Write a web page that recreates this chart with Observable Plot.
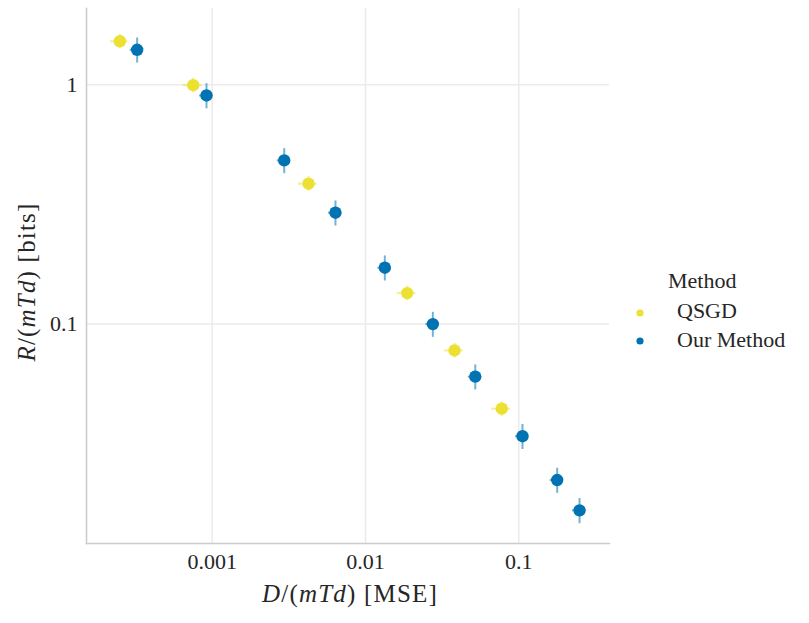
<!DOCTYPE html>
<html>
<head>
<meta charset="utf-8">
<script src="https://cdn.jsdelivr.net/npm/d3@7"></script>
<script src="https://cdn.jsdelivr.net/npm/@observablehq/plot@0.6"></script>
<style>
  html, body { margin: 0; padding: 0; background: white; }
  #wrap { position: relative; width: 809px; height: 623px; }
  #chart { position: absolute; left: 0; top: 0; }
  #legend { position: absolute; left: 620px; top: 250px; }
</style>
</head>
<body>
<div id="wrap"><div id="chart"></div><div id="legend"></div></div>
<script>
// ---- data ----
const methods = ["QSGD", "Our Method"];
const methodColors = ["#ECE133", "#0173B2"];

const qsgdD = [2.50e-4, 7.52e-4, 4.25e-3, 0.0187, 0.0381, 0.0774];
const qsgdR = [1.52, 0.996, 0.386, 0.1347, 0.0776, 0.0443];
const qsgdDErr = [0.13, 0.14, 0.14, 0.14, 0.14, 0.14];   // relative half-width
const qsgdRErr = [0.07, 0.07, 0.07, 0.07, 0.07, 0.07];

const oursD = [3.24e-4, 9.18e-4, 2.95e-3, 6.37e-3, 0.01337, 0.0275, 0.0520, 0.1057, 0.178, 0.249];
const oursR = [1.40, 0.902, 0.483, 0.292, 0.172, 0.100, 0.0603, 0.0340, 0.0223, 0.01666];
const oursDErr = [0.10, 0.10, 0.10, 0.10, 0.10, 0.10, 0.10, 0.10, 0.10, 0.10];
const oursRErr = [0.12, 0.12, 0.12, 0.12, 0.12, 0.12, 0.12, 0.12, 0.12, 0.12];

const xTicks = [0.001, 0.01, 0.1];
const xTickLabels = ["0.001", "0.01", "0.1"];
const yTicks = [0.1, 1];
const yTickLabels = ["0.1", "1"];

// ---- table ----
const rows = [];
qsgdD.forEach((d, i) => rows.push({method: methods[0], D: d, R: qsgdR[i], dE: qsgdDErr[i], rE: qsgdRErr[i]}));
oursD.forEach((d, i) => rows.push({method: methods[1], D: d, R: oursR[i], dE: oursDErr[i], rE: oursRErr[i]}));

const FONT = "'Liberation Serif', 'Times New Roman', serif";
const TXT = "#262626";

const plot = Plot.plot({
  width: 620,
  height: 623,
  marginLeft: 86,
  marginRight: 11,
  marginTop: 8,
  marginBottom: 80,
  style: {fontFamily: FONT, fontSize: "22px", color: TXT, background: "white", overflow: "visible"},
  x: {type: "log", domain: [1.514e-4, 0.3905], ticks: xTicks, tickFormat: d => xTickLabels[xTicks.indexOf(d)], tickSize: 0, tickPadding: 10, label: null},
  y: {type: "log", domain: [0.01211, 2.083], ticks: yTicks, tickFormat: d => yTickLabels[yTicks.indexOf(d)], tickSize: 0, tickPadding: 9, label: null},
  color: {domain: methods, range: methodColors},
  marks: [
    Plot.gridX(xTicks, {stroke: "#ebebeb", strokeOpacity: 1, strokeWidth: 1.5}),
    Plot.gridY(yTicks, {stroke: "#ebebeb", strokeOpacity: 1, strokeWidth: 1.5}),
    Plot.frame({anchor: "left", stroke: "#cccccc", strokeWidth: 1.6}),
    Plot.frame({anchor: "bottom", stroke: "#cccccc", strokeWidth: 1.6}),
    Plot.axisX({ticks: xTicks, tickSize: 0, tickPadding: 10, tickFormat: d => xTickLabels[xTicks.indexOf(d)], label: null}),
    Plot.axisY({ticks: yTicks, tickSize: 0, tickPadding: 9, tickFormat: d => yTickLabels[yTicks.indexOf(d)], label: null}),
    // error bars
    Plot.ruleX(rows, {x: "D", y1: d => d.R * (1 - d.rE), y2: d => d.R * (1 + d.rE), stroke: "method", strokeOpacity: 0.55, strokeWidth: 2}),
    Plot.ruleY(rows, {y: "R", x1: d => d.D * (1 - d.dE), x2: d => d.D * (1 + d.dE), stroke: "method", strokeOpacity: 0.55, strokeWidth: 2}),
    // points
    Plot.dot(rows, {x: "D", y: "R", fill: "method", r: 6.2, stroke: "none"})
  ]
});
document.getElementById("chart").appendChild(plot);

// axis titles with math italics
const svg = d3.select(plot);
const xl = svg.append("text")
  .attr("x", 350).attr("y", 602)
  .attr("text-anchor", "middle")
  .attr("font-family", FONT).attr("font-size", 25).attr("fill", TXT)
  .attr("letter-spacing", 1.2);
xl.append("tspan").attr("font-style", "italic").text("D");
xl.append("tspan").text("/(");
xl.append("tspan").attr("font-style", "italic").text("mTd");
xl.append("tspan").text(") [MSE]");

const yl = svg.append("text")
  .attr("transform", "translate(35,282) rotate(-90)")
  .attr("text-anchor", "middle")
  .attr("font-family", FONT).attr("font-size", 25).attr("fill", TXT)
  .attr("letter-spacing", 1.2);
yl.append("tspan").attr("font-style", "italic").text("R");
yl.append("tspan").text("/(");
yl.append("tspan").attr("font-style", "italic").text("mTd");
yl.append("tspan").text(") [bits]");

// legend
const lg = d3.select("#legend").append("svg").attr("width", 189).attr("height", 120)
  .style("font-family", FONT).style("font-size", "22px");
lg.append("text").attr("x", 48).attr("y", 38).attr("fill", TXT).text("Method");
methods.forEach((m, i) => {
  lg.append("circle").attr("cx", 20).attr("cy", 63 + i * 28).attr("r", 3.6).attr("fill", methodColors[i]);
  lg.append("text").attr("x", 57).attr("y", 68 + i * 29).attr("fill", TXT).text(m);
});
</script>
</body>
</html>
